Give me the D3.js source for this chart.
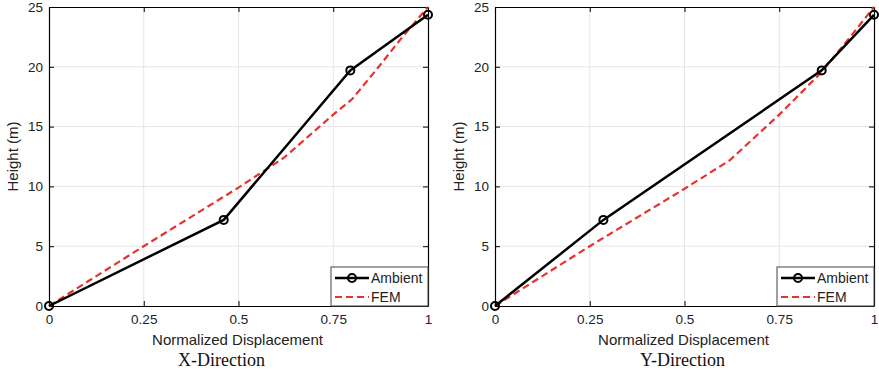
<!DOCTYPE html>
<html>
<head>
<meta charset="utf-8">
<script src="https://cdn.jsdelivr.net/npm/d3@7"></script>
<style>
  body { margin: 0; background: #fff; }
</style>
</head>
<body>
<div id="vis-container"></div>
<script>
// data
const xTicks = [0, 0.25, 0.5, 0.75, 1]
const yTicks = [0, 5, 10, 15, 20, 25]

const ambientX = [[0, 0], [0.461, 7.2], [0.795, 19.7], [1, 24.35]]
const femX = [[0, 0], [0.25, 5.0], [0.5, 9.9], [0.62, 12.4], [0.75, 16.0], [0.8, 17.3], [0.87, 20.0], [0.93, 22.4], [1, 25]]

const ambientY = [[0, 0], [0.286, 7.2], [0.862, 19.7], [1, 24.35]]
const femY = [[0, 0], [0.25, 5.0], [0.5, 9.8], [0.62, 12.2], [0.75, 16.0], [0.86, 19.5], [0.93, 22.2], [1, 25]]

const panels = [
    { title: 'X-Direction', ambient: ambientX, fem: femX, left: 49, titleShift: -17 },
    { title: 'Y-Direction', ambient: ambientY, fem: femY, left: 495, titleShift: -2 }
]

////////////////////////////////////
///////////// SVG Setup ////////////
////////////////////////////////////

const svgWidth = 879
const svgHeight = 377
const plotW = 379
const plotTop = 7
const plotH = 299

const sans = '"Liberation Sans", Arial, sans-serif'
const serif = '"Liberation Serif", "Times New Roman", serif'

const svg = d3.select('#vis-container')
    .append('svg')
    .attr('width', svgWidth)
    .attr('height', svgHeight)
    .style('font-family', sans)

const red = '#e8312b'

panels.forEach(p => {
    const g = svg.append('g')
        .attr('transform', `translate(${p.left},${plotTop})`)

    const xScale = d3.scaleLinear().domain([0, 1]).range([0, plotW])
    const yScale = d3.scaleLinear().domain([0, 25]).range([plotH, 0])

    // grid
    g.append('g').selectAll('line')
        .data(xTicks.slice(1, -1))
        .join('line')
        .attr('x1', d => xScale(d)).attr('x2', d => xScale(d))
        .attr('y1', 0).attr('y2', plotH)
        .attr('stroke', '#e6e6e6').attr('stroke-width', 1)
    g.append('g').selectAll('line')
        .data(yTicks.slice(1, -1))
        .join('line')
        .attr('y1', d => yScale(d)).attr('y2', d => yScale(d))
        .attr('x1', 0).attr('x2', plotW)
        .attr('stroke', '#e6e6e6').attr('stroke-width', 1)

    // axes (ticks inside, MATLAB style)
    g.append('g')
        .attr('transform', `translate(0,${plotH})`)
        .call(d3.axisBottom(xScale).tickValues(xTicks).tickFormat(d => String(d)).tickSizeInner(-5).tickSizeOuter(0).tickPadding(8))
        .call(a => a.selectAll('text').style('font-size', '13.5px').style('font-family', sans).attr('fill', '#222'))
    g.append('g')
        .call(d3.axisLeft(yScale).tickValues(yTicks).tickSizeInner(-5).tickSizeOuter(0).tickPadding(6))
        .call(a => a.selectAll('text').style('font-size', '13.5px').style('font-family', sans).attr('fill', '#222'))
    g.append('g')
        .call(d3.axisTop(xScale).tickValues(xTicks).tickFormat('').tickSizeInner(-5).tickSizeOuter(0))
    g.append('g')
        .attr('transform', `translate(${plotW},0)`)
        .call(d3.axisRight(yScale).tickValues(yTicks).tickFormat('').tickSizeInner(-5).tickSizeOuter(0))
    g.selectAll('.domain').attr('stroke', '#000').attr('stroke-width', 1.2)
    g.selectAll('.tick line').attr('stroke', '#000')

    const line = d3.line().x(d => xScale(d[0])).y(d => yScale(d[1]))

    // FEM
    g.append('path')
        .datum(p.fem)
        .attr('d', line)
        .attr('fill', 'none')
        .attr('stroke', red)
        .attr('stroke-width', 2.2)
        .attr('stroke-dasharray', '7,4')

    // Ambient
    g.append('path')
        .datum(p.ambient)
        .attr('d', line)
        .attr('fill', 'none')
        .attr('stroke', '#000')
        .attr('stroke-width', 2.5)
    g.selectAll('circle.pt')
        .data(p.ambient)
        .join('circle')
        .attr('class', 'pt')
        .attr('cx', d => xScale(d[0]))
        .attr('cy', d => yScale(d[1]))
        .attr('r', 4)
        .attr('fill', 'none')
        .attr('stroke', '#000')
        .attr('stroke-width', 2)

    // legend
    const lg = g.append('g').attr('transform', `translate(${plotW - 97},${plotH - 39})`)
    lg.append('rect')
        .attr('width', 97).attr('height', 39)
        .attr('fill', '#fff').attr('stroke', '#444').attr('stroke-width', 1)
    lg.append('line')
        .attr('x1', 4).attr('x2', 38).attr('y1', 11).attr('y2', 11)
        .attr('stroke', '#000').attr('stroke-width', 2.5)
    lg.append('circle')
        .attr('cx', 21).attr('cy', 11).attr('r', 4)
        .attr('fill', 'none').attr('stroke', '#000').attr('stroke-width', 2)
    lg.append('line')
        .attr('x1', 4).attr('x2', 38).attr('y1', 30).attr('y2', 30)
        .attr('stroke', red).attr('stroke-width', 2.2).attr('stroke-dasharray', '7,4')
    lg.append('text').attr('x', 40).attr('y', 16).style('font-size', '14px').attr('fill', '#222').text('Ambient')
    lg.append('text').attr('x', 40).attr('y', 35).style('font-size', '14px').attr('fill', '#222').text('FEM')

    // axis labels
    g.append('text')
        .attr('x', plotW / 2 - 1)
        .attr('y', plotH + 39)
        .attr('text-anchor', 'middle')
        .style('font-size', '15px')
        .attr('fill', '#222')
        .text('Normalized Displacement')
    g.append('text')
        .attr('transform', `translate(-31,${plotH / 2}) rotate(-90)`)
        .attr('text-anchor', 'middle')
        .style('font-size', '15px')
        .attr('fill', '#222')
        .text('Height (m)')
    g.append('text')
        .attr('x', plotW / 2 + p.titleShift)
        .attr('y', plotH + 60)
        .attr('text-anchor', 'middle')
        .style('font-size', '18px')
        .style('font-family', serif)
        .attr('fill', '#111')
        .text(p.title)
})
</script>
</body>
</html>
